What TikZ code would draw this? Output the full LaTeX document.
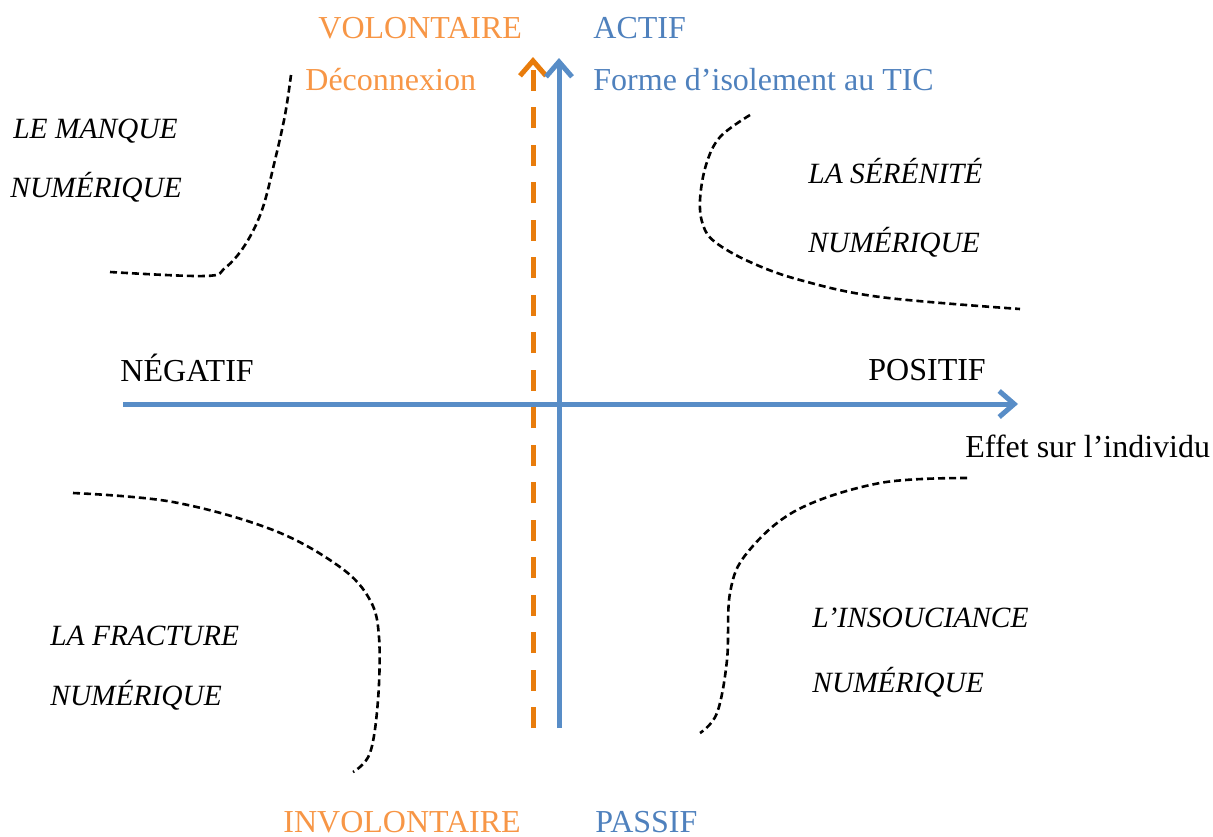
\documentclass[tikz,border=0pt]{standalone}
\usepackage{fontspec}
\setmainfont{Liberation Serif}
\usepackage{xcolor}
\usepackage{tikz}
\usetikzlibrary{arrows.meta, positioning}

\definecolor{axisblue}{RGB}{88,141,199}
\definecolor{textblue}{RGB}{79,129,189}
\definecolor{axisorange}{RGB}{232,124,12}
\definecolor{textorange}{RGB}{247,150,70}

\begin{document}
\begin{tikzpicture}[
    x=0.5pt, y=-0.5pt,
    every node/.style={font=\fontsize{16}{19}\selectfont, inner sep=0pt, anchor=base west},
    bluetxt/.style={text=textblue},
    orangetxt/.style={text=textorange},
    quad/.style={font=\fontsize{14.7}{18}\selectfont\itshape},
    axis/.style={line width=2.5pt, draw=axisblue, -{Straight Barb[length=7.5pt, width=13pt]}},
    choice/.style={line width=2.5pt, draw=axisorange, dash pattern=on 10.5pt off 8.25pt, -{Straight Barb[length=7.5pt, width=13pt]}},
    border/.style={line width=1.3pt, dash pattern=on 3.5pt off 2pt}
]
    \useasboundingbox (0,0) rectangle (1213,836);

    % axis ends
    \coordinate (west) at (123,404);
    \coordinate (east) at (1018,404);
    \coordinate (south) at (559,728);
    \coordinate (north) at (559,58);
    \coordinate (osouth) at (533,728);
    \coordinate (onorth) at (533,57);

    \draw[axis] (west) -- (east);
    \draw[choice] (osouth) -- (onorth);
    \draw[axis] (south) -- (north);

    % axis labels
    \node (volont) [orangetxt] at (318,38) {VOLONTAIRE};
    \node (actif) [bluetxt] at (593,38) {ACTIF};
    \node (deco) [orangetxt] at (305,90) {Déconnexion};
    \node (forme) [bluetxt] at (593,90) {Forme d’isolement au TIC};
    \node (neg) at (120,381) {NÉGATIF};
    \node (pos) at (868,380) {POSITIF};
    \node (effet) at (965,457) {Effet sur l’individu};
    \node (invol) [orangetxt] at (283,832) {INVOLONTAIRE};
    \node (passif) [bluetxt] at (595,832) {PASSIF};

    % quadrants
    \node (manque1) [quad] at (13,138) {LE MANQUE};
    \node (manque2) [quad] at (10,197) {NUMÉRIQUE};
    \node (seren1) [quad] at (808,183) {LA SÉRÉNITÉ};
    \node (seren2) [quad] at (808,252) {NUMÉRIQUE};
    \node (fract1) [quad] at (50,645) {LA FRACTURE};
    \node (fract2) [quad] at (50,705) {NUMÉRIQUE};
    \node (insou1) [quad] at (812,627) {L’INSOUCIANCE};
    \node (insou2) [quad] at (812,692) {NUMÉRIQUE};

    \draw[border] plot[smooth, tension=0.6] coordinates {(110,272) (205,276) (225,268) (245,245) (262,210) (275,160) (285,115) (291,75)};
    \draw[border] plot[smooth, tension=0.6] coordinates {(750,115) (720,137) (706,165) (700,200) (703,225) (715,242) (750,262) (800,280) (880,297) (1020,309)};
    \draw[border] plot[smooth, tension=0.6] coordinates {(73,493) (173,502) (273,530) (340,567) (370,600) (379,637) (378,700) (370,753) (353,772)};
    \draw[border] plot[smooth, tension=0.6] coordinates {(967,478) (880,483) (797,510) (747,553) (730,593) (727,660) (717,713) (700,733)};
\end{tikzpicture}
\end{document}
